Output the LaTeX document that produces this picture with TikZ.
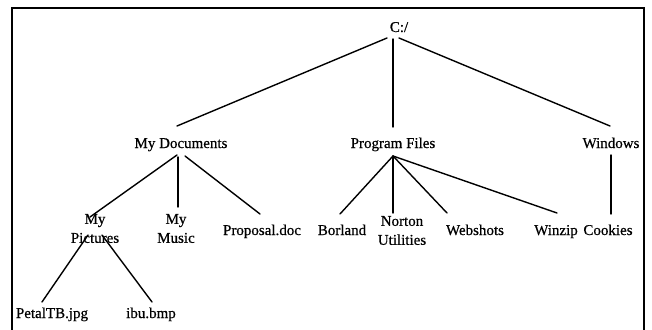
\documentclass[tikz,border=0pt]{standalone}
\usepackage{fontspec}
\setmainfont{Liberation Serif}[FakeBold=0.6]
\begin{document}
\begin{tikzpicture}[x=1pt,y=-1pt,
  lbl/.style={inner sep=0pt, text height=10pt, text depth=0pt, font=\fontsize{15}{19}\selectfont},
  lbltwo/.style={inner sep=0pt, align=center, font=\fontsize{15}{19}\selectfont},
  edge/.style={line width=1.4pt, line cap=round},
  frameline/.style={line width=2.6pt}]
\useasboundingbox (0,0) rectangle (652,329);
% frame
\coordinate (ftl) at (12,8);
\coordinate (ftr) at (644,8);
\coordinate (fbl) at (12,332);
\coordinate (fbr) at (644,332);
\draw[frameline] (fbl) -- (ftl) -- (ftr) -- (fbr);
% nodes
\node[lbl] (c) at (399,27) {C:/};
\node[lbl] (md) at (181,143) {My Documents};
\node[lbl] (pf) at (393,143) {Program Files};
\node[lbl] (win) at (611,143) {Windows};
\node[lbltwo] (mp) at (95,228.5) {My\\Pictures};
\node[lbltwo] (mm) at (176,228.5) {My\\Music};
\node[lbl] (prop) at (262,230) {Proposal.doc};
\node[lbl] (bor) at (342,230) {Borland};
\node[lbltwo] (nor) at (402,230.5) {Norton\\Utilities};
\node[lbl] (web) at (475,230) {Webshots};
\node[lbl] (wz) at (556,230) {Winzip};
\node[lbl] (cook) at (608,230) {Cookies};
\node[lbl] (petal) at (52,313) {PetalTB.jpg};
\node[lbl] (ibu) at (151,313) {ibu.bmp};
% edges
\draw[edge] ([shift={(-12,11)}]c.center) -- ([shift={(-4,-17)}]md.center);
\draw[edge] ([shift={(-6,12)}]c.center) -- ([shift={(0,-16)}]pf.center);
\draw[edge] ([shift={(0,11)}]c.center) -- ([shift={(-1,-17)}]win.center);
\draw[edge] ([shift={(-4,12)}]md.center) -- ([shift={(-5,-11.5)}]mp.center);
\draw[edge] ([shift={(-3,14)}]md.center) -- ([shift={(2,-21.5)}]mm.center);
\draw[edge] ([shift={(4,13)}]md.center) -- ([shift={(-2,-16)}]prop.center);
\draw[edge] ([shift={(-7,6.5)}]mp.center) -- ([shift={(-10,-11)}]petal.center);
\draw[edge] ([shift={(7,6.5)}]mp.center) -- ([shift={(1,-11)}]ibu.center);
\draw[edge] ([shift={(0,13)}]pf.center) -- ([shift={(-2,-16)}]bor.center);
\draw[edge] ([shift={(0,13)}]pf.center) -- ([shift={(-9,-17.5)}]nor.center);
\draw[edge] ([shift={(0,13)}]pf.center) -- ([shift={(-28,-17)}]web.center);
\draw[edge] ([shift={(0,13)}]pf.center) -- ([shift={(1,-17)}]wz.center);
\draw[edge] ([shift={(0,12)}]win.center) -- ([shift={(3,-16)}]cook.center);
\end{tikzpicture}
\end{document}
